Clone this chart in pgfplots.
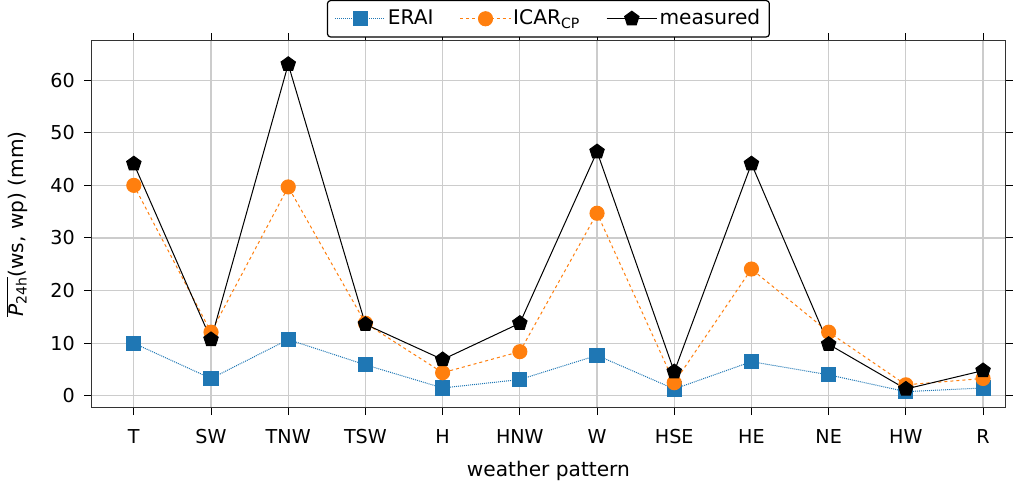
\documentclass[border=0pt]{standalone}
\usepackage{pgfplots}
\pgfplotsset{compat=1.18}
\usepackage{fontspec}
\setmainfont{DejaVu Sans}
\definecolor{tblue}{HTML}{1F77B4}
\definecolor{torange}{HTML}{FF7F0E}
\begin{document}
\fontsize{19}{22}\selectfont
\begin{tikzpicture}
\begin{axis}[
  scale only axis, width=907pt, height=365pt,
  xmin=-0.55, xmax=11.29, ymin=-2.3, ymax=67.6,
  xtick={0,...,11},
  xticklabels={T,SW,TNW,TSW,H,HNW,W,HSE,HE,NE,HW,R},
  ytick={0,10,...,60},
  /pgf/number format/assume math mode=true,
  tick label style={font=\fontsize{19}{22}\selectfont},
  label style={font=\fontsize{20}{23}\selectfont},
  xticklabel style={yshift=-8pt},
  xlabel style={yshift=-4pt},
  yticklabel style={xshift=-3pt},
  ylabel style={yshift=10pt},
  grid=major, grid style={gray!40, line width=1.2pt},
  tick align=outside, major tick length=7pt,
  tick style={black, line width=1pt},
  axis line style={black!80, line width=1pt},
  xlabel={weather pattern},
  ylabel={$\overline{\mbox{\itshape P}_{\mbox{\fontsize{14}{15}\selectfont 24h}}}\mbox{(ws, wp)}$ (mm)},
  legend columns=3,
  legend image code/.code={\draw[mark repeat=2,mark phase=2] plot coordinates {(0pt,0pt)(25pt,0pt)(50pt,0pt)};},
  legend style={at={(0.5,1.007)}, anchor=south, draw=black, line width=1.2pt, rounded corners=3pt,
    inner sep=7pt,
    font=\fontsize{20}{23}\selectfont, /tikz/every even column/.append style={column sep=24pt}},
  legend cell align=left,
]
\addplot[tblue, densely dotted, line width=1pt, mark=square*, mark size=7pt, mark options={solid}] coordinates {
(0,10.0)(1,3.3)(2,10.7)(3,5.9)(4,1.5)(5,3.1)(6,7.7)(7,1.3)(8,6.5)(9,4.0)(10,0.8)(11,1.5)};
\addlegendentry{ERAI}
\addplot[torange, dashed, line width=1pt, mark=*, mark size=7pt, mark options={solid}] coordinates {
(0,40.0)(1,12.1)(2,39.7)(3,13.8)(4,4.4)(5,8.4)(6,34.7)(7,2.5)(8,24.1)(9,12.1)(10,2.1)(11,3.3)};
\addlegendentry{ICAR$_{\mbox{\fontsize{14}{15}\selectfont CP}}$}
\addplot[black, line width=1pt, mark=pentagon*, mark size=7.5pt] coordinates {
(0,44.1)(1,10.7)(2,63.0)(3,13.6)(4,6.9)(5,13.8)(6,46.4)(7,4.6)(8,44.1)(9,9.8)(10,1.3)(11,4.8)};
\addlegendentry{measured}
\end{axis}
\end{tikzpicture}
\end{document}
